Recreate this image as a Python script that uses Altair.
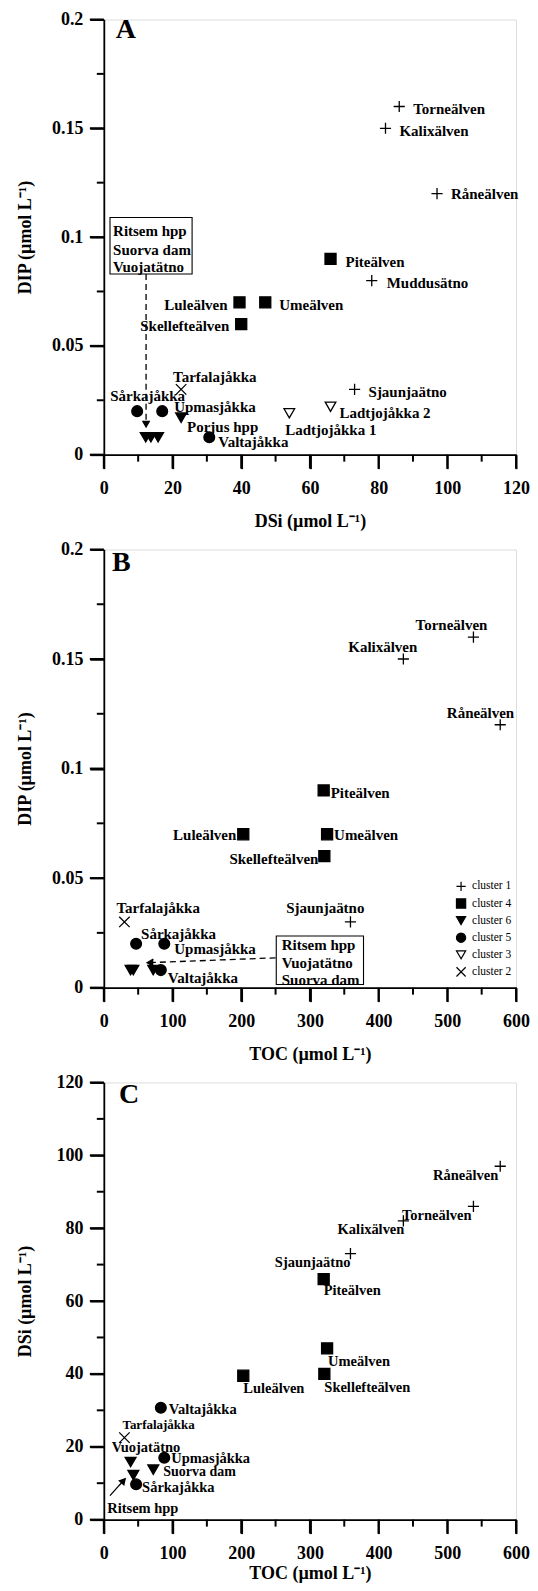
import altair as alt
import pandas as pd

FONT = "Liberation Serif"

# ---------------- data ----------------
sites = ["Torneälven", "Kalixälven", "Råneälven", "Muddusätno", "Sjaunjaätno",
         "Piteälven", "Luleälven", "Umeälven", "Skellefteälven",
         "Tarfalajåkka", "Sårkajåkka", "Upmasjåkka", "Valtajåkka",
         "Ladtjojåkka 1", "Ladtjojåkka 2",
         "Porjus hpp", "Ritsem hpp", "Suorva dam", "Vuojatätno"]
clusters = ["cluster 1", "cluster 1", "cluster 1", "cluster 1", "cluster 1",
            "cluster 4", "cluster 4", "cluster 4", "cluster 4",
            "cluster 2", "cluster 5", "cluster 5", "cluster 5",
            "cluster 3", "cluster 3",
            "cluster 6", "cluster 6", "cluster 6", "cluster 6"]
dsi = [86, 82, 97, 78, 73,
       66, 39.5, 47, 40,
       22.5, 9.7, 17, 30.7,
       54, 66,
       22.5, 12.2, 13.7, 15.8]
dip = [0.16, 0.15, 0.12, 0.08, 0.03,
       0.09, 0.07, 0.07, 0.06,
       0.03, 0.02, 0.02, 0.008,
       0.019, 0.022,
       0.017, 0.008, 0.008, 0.008]
toc = [538, 436, 577, None, 359,
       320, 203, 325, 321,
       30, 47, 88, 83,
       None, None,
       None, 43, 72, 39]

legend_order = ["cluster 1", "cluster 4", "cluster 6", "cluster 5", "cluster 3", "cluster 2"]

df = pd.DataFrame({"site": sites, "cluster": clusters, "DSi": dsi, "DIP": dip, "TOC": toc})
df_toc = df.dropna(subset=["TOC"]).reset_index(drop=True)

# ---------------- styling ----------------
PLUS = "M-1,0L1,0M0,-1L0,1"
CROSS = "M-1,-1L1,1M-1,1L1,-1"
shape_range = [PLUS, "square", "triangle-down", "circle", "triangle-down", CROSS]
fill_range = ["black", "black", "black", "black", "white", "black"]
size_range = [125, 110, 115, 115, 90, 90]

W = 413
MAJ, MIN = 14, 7


def make_axis(values, test, fmt, title, label_pad, title_pad):
    return alt.Axis(
        values=values, title=title, ticks=True, tickSize=MAJ, tickWidth=2,
        tickColor="black",
        labelExpr=f"({test}) ? format(datum.value, '{fmt}') : ''",
        domainColor="black", domainWidth=1.8,
        labelFont=FONT, labelFontSize=18, labelFontWeight="bold", labelColor="black",
        labelPadding=label_pad, labelOverlap=False, labelFlush=False,
        titleFont=FONT, titleFontSize=18, titleFontWeight="bold", titleColor="black",
        titlePadding=title_pad, grid=False)


def panel(data, xf, yf, xdom, ydom, xticks, yticks, xtest, ytest, xfmt, yfmt,
          xtitle, ytitle, labels, ann, letter, x_lpad, x_tpad, y_tpad, h):
    xmaj, xmin = xticks
    ymaj, ymin = yticks
    xaxis = make_axis(xmaj, xtest, xfmt, xtitle, x_lpad, x_tpad)
    yaxis = make_axis(ymaj, ytest, yfmt, ytitle, 7, y_tpad)
    xs = alt.Scale(domain=xdom, nice=False, zero=False)
    ys = alt.Scale(domain=ydom, nice=False, zero=False)
    X = alt.X(f"{xf}:Q", scale=xs, axis=xaxis)
    Y = alt.Y(f"{yf}:Q", scale=ys, axis=yaxis)
    SH = alt.Shape("cluster:N", scale=alt.Scale(domain=legend_order, range=shape_range), legend=None)
    FI = alt.Fill("cluster:N", scale=alt.Scale(domain=legend_order, range=fill_range), legend=None)
    SZ = alt.Size("cluster:N", scale=alt.Scale(domain=legend_order, range=size_range), legend=None)

    layers = []
    # axis tick marks (major / minor), positioned through the panel's scales
    for vals, ln in ((xmaj, MAJ), (xmin, MIN)):
        tdf = pd.DataFrame({xf: vals})
        layers.append(alt.Chart(tdf).mark_rule(color="black", strokeWidth=2, clip=False)
                      .encode(x=X, y=alt.value(h), y2=alt.value(h + ln)))
    for vals, ln in ((ymaj, MAJ), (ymin, MIN)):
        tdf = pd.DataFrame({yf: vals})
        layers.append(alt.Chart(tdf).mark_rule(color="black", strokeWidth=2, clip=False)
                      .encode(y=Y, x=alt.value(0), x2=alt.value(-ln)))

    if "box" in ann:
        (bx0, bx1), (by0, by1) = ann["box"]
        bdf = pd.DataFrame({xf: [bx0], "x2": [bx1], yf: [by0], "y2": [by1]})
        layers.append(alt.Chart(bdf).mark_rect(fill="white", stroke="black", strokeWidth=1.1)
                      .encode(x=X, x2="x2:Q", y=Y, y2="y2:Q"))
        tx, tys, texts = ann["box_text"]
        tdf = pd.DataFrame({xf: [tx] * len(tys), yf: tys, "t": texts})
        layers.append(alt.Chart(tdf).mark_text(align="left", baseline="middle", font=FONT,
                                               fontSize=15, fontWeight="bold", color="black")
                      .encode(x=X, y=Y, text="t:N"))
    if "line" in ann:
        (lx0, ly0), (lx1, ly1), dash = ann["line"]
        ldf = pd.DataFrame({xf: [lx0], "x2": [lx1], yf: [ly0], "y2": [ly1]})
        layers.append(alt.Chart(ldf).mark_rule(color="black", strokeWidth=1.3,
                                               strokeDash=dash)
                      .encode(x=X, x2="x2:Q", y=Y, y2="y2:Q"))
        hx, hy, hpath, hfill = ann["head"]
        hdf = pd.DataFrame({xf: [hx], yf: [hy]})
        layers.append(alt.Chart(hdf).mark_point(shape=hpath, size=60, filled=hfill,
                                                stroke="black", strokeWidth=1.3,
                                                fill="black", opacity=1)
                      .encode(x=X, y=Y))

    layers.append(alt.Chart(data).mark_point(filled=True, stroke="black", strokeWidth=1.3,
                                             opacity=1)
                  .encode(x=X, y=Y, shape=SH, fill=FI, size=SZ))

    if "legend" in ann:
        gx, gys = ann["legend"]
        gdf = pd.DataFrame({xf: [gx] * len(gys), yf: gys, "cluster": legend_order})
        layers.append(alt.Chart(gdf).mark_point(filled=True, stroke="black", strokeWidth=1.2,
                                                opacity=1)
                      .encode(x=X, y=Y, shape=SH, fill=FI, size=alt.value(85)))
        layers.append(alt.Chart(gdf).mark_text(align="left", baseline="middle", dx=11,
                                               font=FONT, fontSize=11.5, color="black")
                      .encode(x=X, y=Y, text="cluster:N"))

    for name, (al, dx, dy, fs) in labels.items():
        layers.append(alt.Chart(data).transform_filter(alt.datum.site == name)
                      .mark_text(align=al, baseline="middle", dx=dx, dy=dy, font=FONT,
                                 fontSize=fs, fontWeight="bold", color="black")
                      .encode(x=X, y=Y, text="site:N"))
    if "extra_text" in ann:
        ex, ey, et = ann["extra_text"]
        edf = pd.DataFrame({xf: [ex], yf: [ey], "t": [et]})
        layers.append(alt.Chart(edf).mark_text(align="left", baseline="middle", font=FONT,
                                               fontSize=14.5, fontWeight="bold", color="black")
                      .encode(x=X, y=Y, text="t:N"))

    lx, ly, lt = letter
    ldf = pd.DataFrame({xf: [lx], yf: [ly], "t": [lt]})
    layers.append(alt.Chart(ldf).mark_text(align="left", baseline="middle", font=FONT,
                                           fontSize=28, fontWeight="bold", color="black")
                  .encode(x=X, y=Y, text="t:N"))

    return alt.layer(*layers).properties(width=W, height=h)


# ticks: (major, minor)
dip_ticks = ([0, 0.05, 0.1, 0.15, 0.2], [0.025, 0.075, 0.125, 0.175])
dip_test = "abs(datum.value * 20 - round(datum.value * 20)) < 0.001"
dsi_ticks = ([0, 20, 40, 60, 80, 100, 120], [10, 30, 50, 70, 90, 110])
dsi_test = "datum.value % 20 == 0"
toc_ticks = ([0, 100, 200, 300, 400, 500, 600], [50, 150, 250, 350, 450, 550])
toc_test = "datum.value % 100 == 0"

TITLE_DSI = "DSi (µmol L⁻¹)"
TITLE_DIP = "DIP (µmol L⁻¹)"
TITLE_TOC = "TOC (µmol L⁻¹)"

FS = 15
labels_A = {
    "Torneälven": ("left", 14, 2, FS),
    "Kalixälven": ("left", 14, 3, FS),
    "Råneälven": ("left", 14, 0, FS),
    "Piteälven": ("left", 15, 3, FS),
    "Muddusätno": ("left", 15, 2, FS),
    "Luleälven": ("right", -12, 3, FS),
    "Umeälven": ("left", 14, 3, FS),
    "Skellefteälven": ("right", -12, 2, FS),
    "Tarfalajåkka": ("left", -8, -12, FS),
    "Sårkajåkka": ("left", -27, -15, FS),
    "Upmasjåkka": ("left", 12, -4, FS),
    "Porjus hpp": ("left", 6, 9, FS),
    "Valtajåkka": ("left", 9, 5, FS),
    "Ladtjojåkka 1": ("left", -4, 17, FS),
    "Ladtjojåkka 2": ("left", 9, 6, FS),
    "Sjaunjaätno": ("left", 14, 3, FS),
}
labels_B = {
    "Torneälven": ("right", 14, -12, FS),
    "Kalixälven": ("right", 14, -12, FS),
    "Råneälven": ("right", 14, -12, FS),
    "Piteälven": ("left", 7, 3, FS),
    "Luleälven": ("right", -7, 1, FS),
    "Umeälven": ("left", 7, 1, FS),
    "Skellefteälven": ("right", -6, 3, FS),
    "Sjaunjaätno": ("right", 14, -14, FS),
    "Tarfalajåkka": ("left", -8, -14, FS),
    "Sårkajåkka": ("left", 5, -10, FS),
    "Upmasjåkka": ("left", 10, 5, FS),
    "Valtajåkka": ("left", 7, 8, FS),
}
labels_C = {
    "Råneälven": ("right", -2, 10, 14.5),
    "Torneälven": ("right", -2, 10, 14.5),
    "Kalixälven": ("right", 1, 9, 14.5),
    "Sjaunjaätno": ("right", 0, 9, 14.5),
    "Piteälven": ("left", 0, 12, 14.5),
    "Umeälven": ("left", 1, 14, 14.5),
    "Skellefteälven": ("left", 0, 14, 14.5),
    "Luleälven": ("left", 0, 13, 14.5),
    "Valtajåkka": ("left", 8, 2, 14.5),
    "Tarfalajåkka": ("left", -2, -13, 13),
    "Vuojatätno": ("left", -19, -14, 14.5),
    "Upmasjåkka": ("left", 7, 1, 14.5),
    "Suorva dam": ("left", 10, 2, 14),
    "Sårkajåkka": ("left", 6, 4, 14.5),
}

ann_A = {
    "box": ((1.8, 25.7), (0.083, 0.109)),
    "box_text": (2.7, [0.103, 0.0941, 0.0862], ["Ritsem hpp", "Suorva dam", "Vuojatätno"]),
    "line": ((12.3, 0.083), (12.3, 0.0135), [6, 4]),
    "head": (12.3, 0.0127, "M-0.9,-1.6L0,0L0.9,-1.6", False),
}
ann_B = {
    "box": ((251, 378), (0.0014, 0.0236)),
    "box_text": (259, [0.0195, 0.0112, 0.0036], ["Ritsem hpp", "Vuojatätno", "Suorva dam"]),
    "line": ((250, 0.0136), (66, 0.0114), [6, 4]),
    "head": (63, 0.0114, "M1.6,-0.9L0,0L1.6,0.9", False),
    "legend": (520, [0.0462, 0.0384, 0.0306, 0.0228, 0.0150, 0.0072]),
}
ann_C = {
    "line": ((9, 6.6), (31, 11.2), [1, 0]),
    "head": (31, 11.2, "M-1.5,0.51L0,0L-0.32,1.57Z", True),
    "extra_text": (5, 3, "Ritsem hpp"),
}

A = panel(df, "DSi", "DIP", [0, 120], [0, 0.2], dsi_ticks, dip_ticks, dsi_test, dip_test,
          "d", "~g", TITLE_DSI, TITLE_DIP, labels_A, ann_A, (3.5, 0.195, "A"),
          11, 15, 16.5, 436)
B = panel(df_toc, "TOC", "DIP", [0, 600], [0, 0.2], toc_ticks, dip_ticks, toc_test, dip_test,
          "d", "~g", TITLE_TOC, TITLE_DIP, labels_B, ann_B, (12, 0.194, "B"),
          11, 15, 16.5, 439)
C = panel(df_toc, "TOC", "DSi", [0, 600], [0, 120], toc_ticks, dsi_ticks, toc_test, dsi_test,
          "d", "d", TITLE_TOC, TITLE_DSI, labels_C, ann_C, (22, 116.5, "C"),
          11, 2, 21, 438)

chart = (alt.vconcat(A, B, C, spacing=8)
         .resolve_scale(x="independent", y="independent")
         .properties(padding={"left": 8, "top": 0, "right": 0, "bottom": 0})
         .configure_view(stroke=None)
         .configure(background="white"))

chart.save("out.html", embed_options={"renderer": "svg", "actions": False})
